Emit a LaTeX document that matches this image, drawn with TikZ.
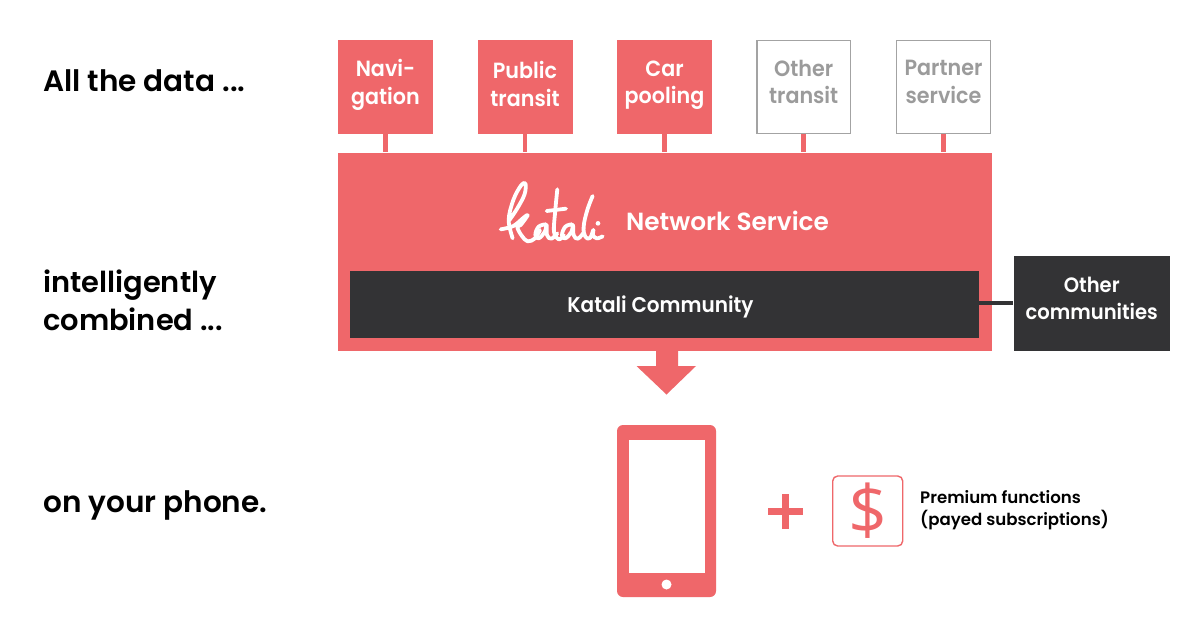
\documentclass[tikz,border=0pt]{standalone}
\usepackage{fontspec}
\setmainfont{Poppins}[UprightFont=* SemiBold,BoldFont=* SemiBold]
\newfontfamily\narrowfont{Poppins SemiBold}[FakeStretch=0.94]
\newfontfamily\dollarfont{Open Sans}
\definecolor{coral}{HTML}{EF676A}
\definecolor{ink}{HTML}{333335}
\definecolor{mute}{HTML}{A3A3A3}
\definecolor{mutetext}{HTML}{9B9B9B}
\newcommand\lift[1]{\rule[-#1pt]{0pt}{0pt}}
\newcommand\fs[2]{\fontsize{#1}{#2}\selectfont}
\begin{document}
\begin{tikzpicture}[x=1pt,y=-1pt,
  box/.style={rectangle,inner sep=0pt,minimum width=95pt,minimum height=94.5pt,align=center,font=\narrowfont\fs{22}{27.5}},
  filled/.style={box,fill=coral,text=white},
  ghost/.style={box,draw=mute,line width=1.4pt,minimum width=93.6pt,minimum height=93pt,fill=white,text=mutetext},
  darkbox/.style={rectangle,inner sep=0pt,fill=ink,text=white,align=center},
  caption/.style={anchor=west,inner sep=0pt,align=left,text=black,font=\fs{29.5}{38}},
  link/.style={draw=coral,line width=4.5pt},
  logo/.style={draw=white,line width=3.8pt,line cap=round,line join=round}]
\useasboundingbox (0,0) rectangle (1200,630);
\fill[white] (0,0) rectangle (1200,630);
% captions
\node[caption] (c1) at (43,81) {All the data ...};
\node[caption,font=\fs{28.9}{38.5}] (c2) at (43,300.5) {intelligently\\combined ...};
\node[caption] (c3) at (43,505.5) {on your phone.};
% main block
\node[rectangle,inner sep=0pt,fill=coral,minimum width=653.5pt,minimum height=198pt] (main) at (664.75,251.5) {};
% sources
\node[filled] (nav) at (385.5,87) {Navi-\\gation\lift{10}};
\node[filled] (pub) at (525,87) {Public\\transit\lift{6}};
\node[filled] (car) at (664.5,87) {Car\\pooling\lift{10}};
\node[ghost] (oth) at (803.7,87) {Other\\transit\lift{10}};
\node[ghost] (par) at (943.5,87) {Partner\\service\lift{10}};
\draw[link] (nav.south) -- (nav.south |- main.north);
\draw[link] (pub.south) -- (pub.south |- main.north);
\draw[link] (car.south) -- (car.south |- main.north);
\draw[link] (oth.south) -- (oth.south |- main.north);
\draw[link] (par.south) -- (par.south |- main.north);
\node[text=white,inner sep=0pt,anchor=base west,font=\fs{24.8}{28}] (net) at (626,230.5) {Network Service};
\node[darkbox,minimum width=629pt,minimum height=67pt,font=\narrowfont\fs{21.3}{26}] (kc) at (664.5,304.5) {\rule{0pt}{22pt}\hspace*{-8pt}Katali Community};
\node[darkbox,minimum width=156.5pt,minimum height=94.5pt,font=\narrowfont\fs{20.8}{27}] (oc) at (1091.75,303.25) {Other\\communities\lift{9}};
\draw[draw=ink,line width=4pt] (kc.east |- 0,303) -- (oc.west |- 0,303);
% logo
\begin{scope}[shift={(480,170)},x=0.3333pt,y=-0.3333pt,logo]
\coordinate (lg) at (0,0);
\draw plot[smooth,tension=.6] coordinates {(98,205)(86,150)(100,90)(122,48)(136,40)(134,72)(112,115)(87,152)};
\draw plot[smooth,tension=.6] coordinates {(62,178)(100,168)(132,142)(143,136)(122,165)(112,172)(125,197)(143,214)(165,205)(180,180)};
\draw plot[smooth,tension=.7] coordinates {(198,163)(176,170)(166,195)(176,205)(194,186)(200,165)(201,195)(214,206)(232,190)};
\draw plot[smooth,tension=.6] coordinates {(232,58)(226,120)(222,185)(236,208)(252,196)};
\draw (200,123) -- (258,116);
\draw plot[smooth,tension=.7] coordinates {(276,163)(256,170)(246,195)(256,205)(274,186)(279,165)(281,195)(294,206)(312,186)};
\draw plot[smooth,tension=.7] coordinates {(338,78)(322,120)(311,170)(316,200)(330,204)(340,180)(339,195)(350,205)(368,199)};
\fill[white] (354,160) circle (7);
\end{scope}
% arrow
\fill[coral] (656,350) -- (678,350) -- (678,366) -- (696,366) -- (666.5,394.5) -- (636.5,366) -- (656,366) -- cycle;
% phone
\fill[coral,rounded corners=6pt] (617,425) rectangle (716,597);
\fill[white] (628.5,439.5) rectangle (705,573);
\fill[white] (666.5,584.5) circle (5);
% plus
\fill[coral] (782,494) rectangle (789,528.5);
\fill[coral] (768,507.5) rectangle (803,514.5);
% premium
\node[rectangle,rounded corners=5pt,draw=coral,line width=1.4pt,fill=white,inner sep=0pt,minimum width=70pt,minimum height=70pt,text=coral,font=\dollarfont\fs{68}{68}] (dollar) at (867.7,511) {\$};
\node[anchor=west,inner sep=0pt,align=left,text=black,font=\fs{16.6}{22}] (prem) at (920,510) {Premium functions\\(payed subscriptions)};
\end{tikzpicture}
\end{document}
